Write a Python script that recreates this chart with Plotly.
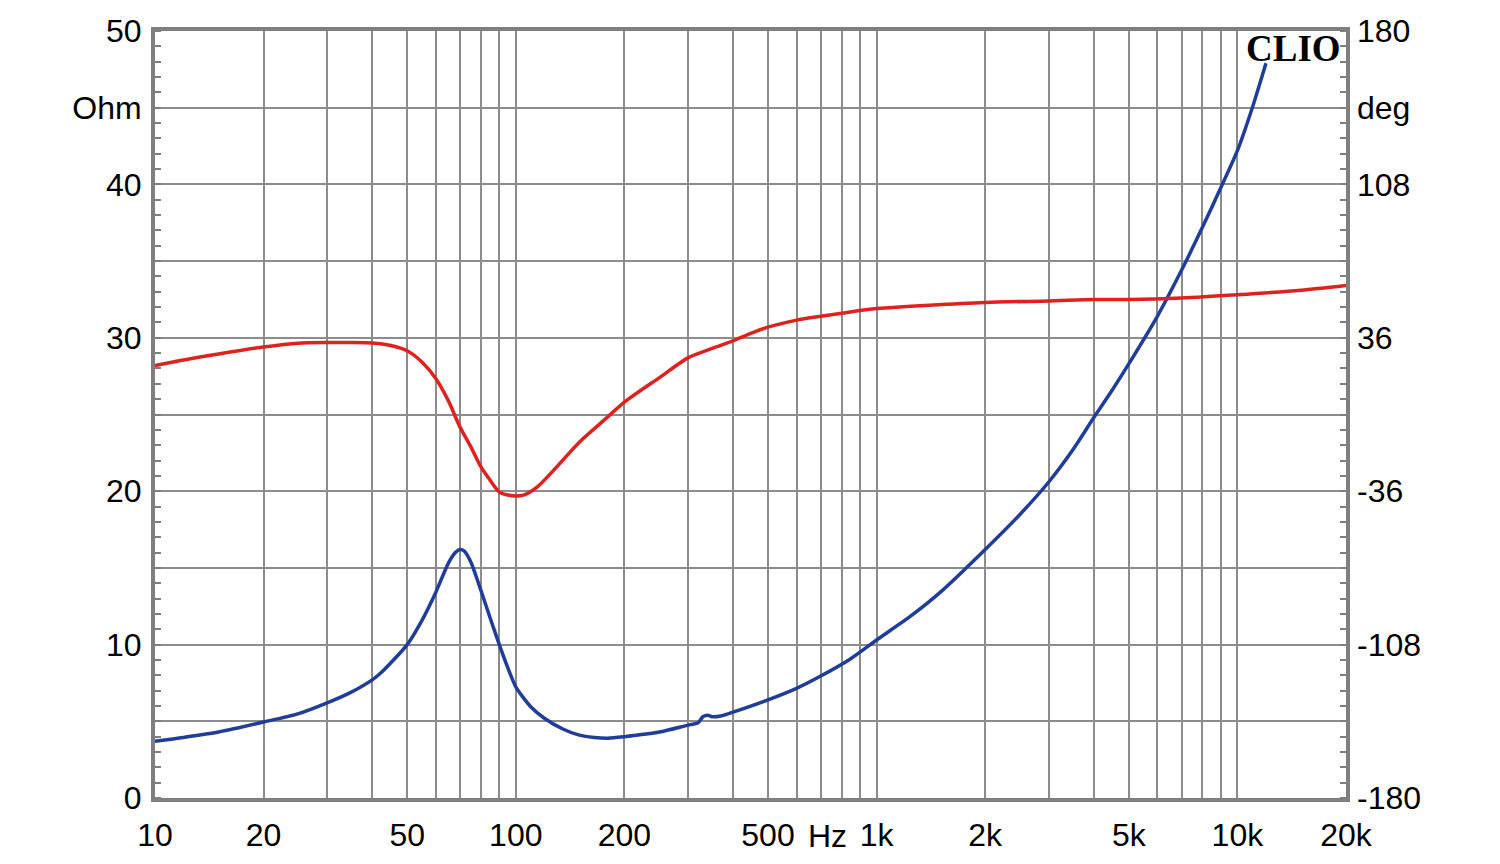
import plotly.graph_objects as go
import numpy as np

# Impedance (blue, Ohm)
imp_freq = [10, 12, 15, 20, 25, 30, 35, 40, 42, 45, 50, 55, 60, 65, 68, 70, 72, 75, 80, 85, 90, 95, 100,
            110, 120, 135, 150, 165, 180, 200, 250, 300, 320, 330, 340, 350, 370, 400, 500, 600, 700,
            850, 1000, 1250, 1500, 2000, 2500, 3000, 3500, 4000, 4500, 5000, 6000, 7000, 8000, 9000,
            10000, 11000, 12000]
imp_ohm = [3.7, 3.95, 4.3, 4.95, 5.5, 6.2, 6.9, 7.7, 8.1, 8.8, 10.0, 11.6, 13.4, 15.3, 16.0, 16.2, 16.1,
           15.4, 13.55, 11.7, 10.0, 8.5, 7.25, 5.95, 5.2, 4.5, 4.1, 3.95, 3.9, 4.0, 4.3, 4.75, 4.9, 5.3,
           5.4, 5.3, 5.35, 5.6, 6.4, 7.15, 7.95, 9.1, 10.3, 11.9, 13.4, 16.2, 18.5, 20.6, 22.7, 24.8,
           26.6, 28.3, 31.4, 34.4, 37.2, 39.8, 42.2, 45.0, 47.9]

# Phase (red, deg)
ph_freq = [10, 12, 15, 20, 25, 30, 35, 40, 45, 50, 55, 60, 65, 70, 75, 80, 85, 90, 95, 100, 105, 115,
           130, 150, 175, 200, 250, 300, 350, 400, 450, 500, 600, 700, 800, 1000, 2000, 3000, 4000,
           5000, 7000, 10000, 15000, 20000]
ph_deg = [23.0, 25.6, 28.4, 31.7, 33.5, 33.8, 33.8, 33.6, 32.4, 29.9, 24.5, 16.9, 6.5, -5.8, -15.1,
          -24.5, -31.0, -36.4, -37.8, -38.2, -37.8, -33.8, -24.5, -13.0, -2.9, 5.8, 17.3, 26.6, 31.0,
          34.6, 38.2, 41.0, 44.3, 46.1, 47.5, 49.7, 52.6, 53.3, 54.0, 54.0, 54.7, 56.2, 58.3, 60.5]

# Axis ticks
x_grid = [m * 10 ** d for d in range(1, 5) for m in range(1, 10)] + [20000]
x_grid = [v for v in x_grid if v <= 20000]
x_labels = {10: "10", 20: "20", 50: "50", 100: "100", 200: "200", 500: "500",
            1000: "1k", 2000: "2k", 5000: "5k", 10000: "10k", 20000: "20k"}
y_vals = [0, 5, 10, 15, 20, 25, 30, 35, 40, 45, 50]
y_text = ["0", "", "10", "", "20", "", "30", "", "40", "Ohm", "50"]
y2_vals = [-180, -144, -108, -72, -36, 0, 36, 72, 108, 144, 180]
y2_text = ["-180", "", "-108", "", "-36", "", "36", "", "108", "deg", "180"]

FONT = "Liberation Sans, Arial, sans-serif"
FS = 32
GRID = "#8c8c8c"
FRAME = "#7f7f7f"

fig = go.Figure()
fig.add_trace(go.Scatter(x=ph_freq, y=ph_deg, yaxis="y2", mode="lines",
                         line=dict(color="#e0221f", width=3.5, shape="spline", smoothing=0.7)))
fig.add_trace(go.Scatter(x=imp_freq, y=imp_ohm, mode="lines",
                         line=dict(color="#1f3d99", width=3.5, shape="spline", smoothing=0.7)))

fig.update_layout(
    width=1500, height=864,
    margin=dict(l=147, r=162, t=23, b=74),
    plot_bgcolor="white", paper_bgcolor="white",
    showlegend=False,
    font=dict(family=FONT, size=FS, color="black"),
    xaxis=dict(type="log", range=[1, np.log10(20000)], automargin=False,
               tickvals=x_grid, ticktext=[x_labels.get(v, "") for v in x_grid],
               showgrid=True, gridcolor=GRID, gridwidth=1.6,
               showline=True, linecolor=FRAME, linewidth=4, mirror=True,
               ticks="", ticklabelstandoff=6, zeroline=False),
    yaxis=dict(range=[0, 50], tickvals=y_vals, ticktext=y_text, automargin=False,
               showgrid=True, gridcolor=GRID, gridwidth=1.6,
               showline=True, linecolor=FRAME, linewidth=4, mirror=True,
               ticks="", ticklabelstandoff=3, zeroline=False,
               minor=dict(dtick=1, ticks="inside", ticklen=6, tickcolor=FRAME, tickwidth=1.5, showgrid=False)),
    yaxis2=dict(range=[-180, 180], overlaying="y", side="right", automargin=False,
                tickvals=y2_vals, ticktext=y2_text, showgrid=False,
                ticks="", ticklabelstandoff=10, zeroline=False,
                minor=dict(dtick=7.2, tick0=-180, ticks="inside", ticklen=6, tickcolor=FRAME, tickwidth=1.5, showgrid=False)),
)

fig.add_annotation(x=np.log10(733), y=0, xref="x", yref="paper", yanchor="middle", yshift=-38,
                   text="Hz", showarrow=False, font=dict(family=FONT, size=FS, color="black"))
fig.add_annotation(x=0.9975, y=0.977, xref="paper", yref="paper", xanchor="right", yanchor="middle",
                   text="<b>CLIO</b>", showarrow=False,
                   font=dict(family="Liberation Serif, Times New Roman, serif", size=37, color="black"))

fig.write_html("out.html")
